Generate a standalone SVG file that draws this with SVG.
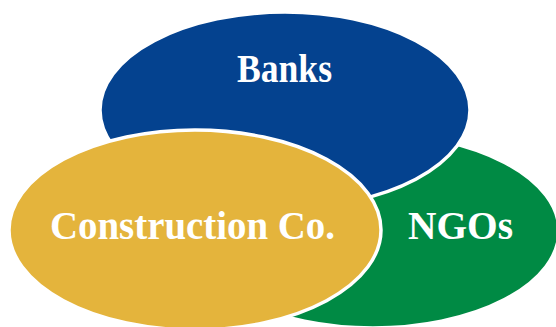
<svg xmlns="http://www.w3.org/2000/svg" width="556" height="327" viewBox="0 0 556 327">
<style>
.e{stroke:#fff;stroke-width:3.5}
.t{font-family:"Liberation Serif","Times New Roman",serif;font-weight:bold;font-size:41px;fill:#fff}
</style>
<rect width="556" height="327" fill="#fff"/>
<g id="ngos">
<ellipse class="e" cx="373" cy="231" rx="186" ry="97" fill="#008A44"/>
<text class="t" x="408" y="239" textLength="105" lengthAdjust="spacingAndGlyphs">NGOs</text>
</g>
<g id="banks">
<ellipse class="e" cx="285" cy="110" rx="185" ry="98" fill="#04428F"/>
<text class="t" x="237" y="82" textLength="95" lengthAdjust="spacingAndGlyphs">Banks</text>
</g>
<g id="construction">
<ellipse class="e" cx="195" cy="230" rx="186" ry="100" fill="#E4B43C"/>
<text class="t" x="50" y="239" textLength="285" lengthAdjust="spacingAndGlyphs">Construction Co.</text>
</g>
<g id="connectors"/>
</svg>
